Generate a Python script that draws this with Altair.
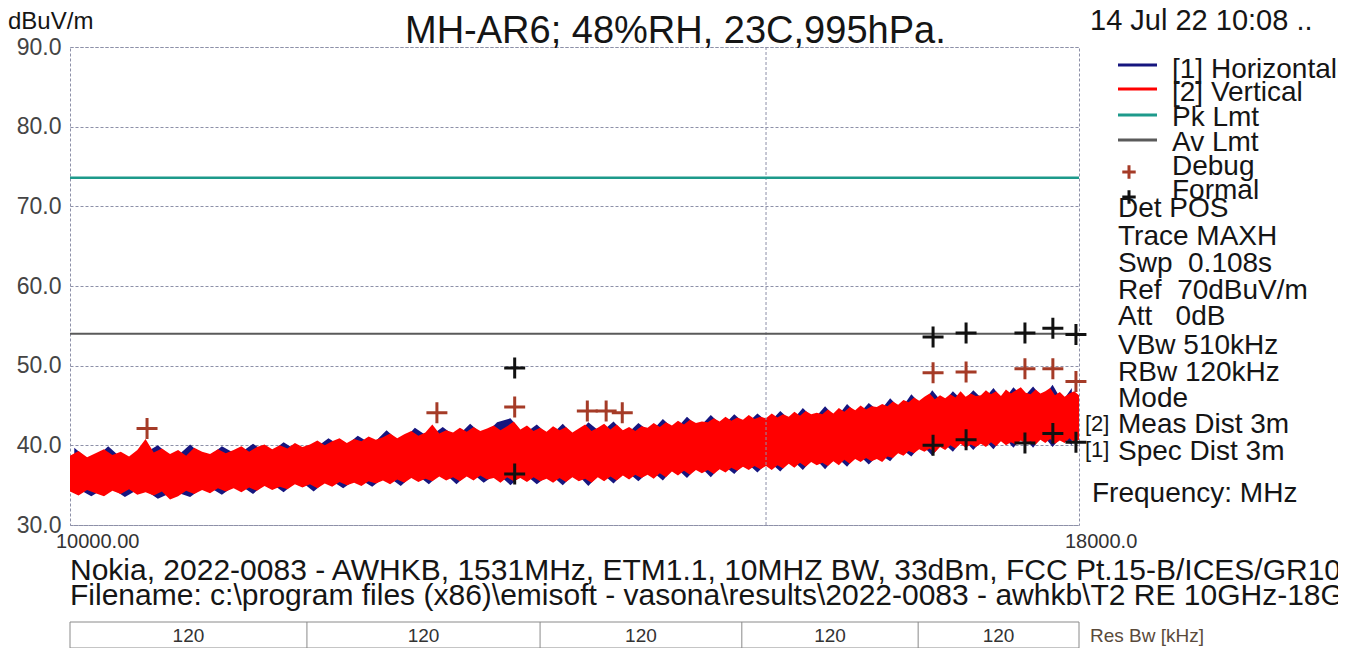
import altair as alt
import pandas as pd

FONT = "Liberation Sans"

# ---------------- data ----------------
RED_FREQ = [
    10000, 10050, 10100, 10150, 10200, 10250, 10300, 10350, 10400, 10450,
    10500, 10550, 10600, 10650, 10700, 10750, 10800, 10850, 10900, 10950,
    11000, 11050, 11100, 11150, 11200, 11250, 11300, 11350, 11400, 11450,
    11500, 11550, 11600, 11650, 11700, 11750, 11800, 11850, 11900, 11950,
    12000, 12050, 12100, 12150, 12200, 12250, 12300, 12350, 12400, 12450,
    12500, 12550, 12600, 12650, 12700, 12750, 12800, 12850, 12900, 12950,
    13000, 13050, 13100, 13150, 13200, 13250, 13300, 13350, 13400, 13450,
    13500, 13550, 13600, 13650, 13700, 13750, 13800, 13850, 13900, 13950,
    14000, 14050, 14100, 14150, 14200, 14250, 14300, 14350, 14400, 14450,
    14500, 14550, 14600, 14650, 14700, 14750, 14800, 14850, 14900, 14950,
    15000, 15050, 15100, 15150, 15200, 15250, 15300, 15350, 15400, 15450,
    15500, 15550, 15600, 15650, 15700, 15750, 15800, 15850, 15900, 15950,
    16000, 16050, 16100, 16150, 16200, 16250, 16300, 16350, 16400, 16450,
    16500, 16550, 16600, 16650, 16700, 16750, 16800, 16850, 16900, 16950,
    17000, 17050, 17100, 17150, 17200, 17250, 17300, 17350, 17400, 17450,
    17500, 17550, 17600, 17650, 17700, 17750, 17800, 17850, 17900, 17950,
    18000]
RED_HI = [
    38.7, 39.3, 38.5, 39.0, 39.5, 38.8, 39.2, 38.6, 39.4, 40.8,
    39.1, 39.6, 38.9, 39.4, 38.7, 39.7, 39.2, 38.9, 39.5, 39.0,
    39.4, 39.9, 39.2, 39.8, 40.1, 39.5, 40.0, 39.6, 40.3, 39.8,
    40.1, 40.6, 40.0, 40.5, 40.9, 40.3, 40.8, 40.5, 41.1, 40.7,
    41.0, 41.5, 40.9, 41.4, 41.8, 41.2, 41.6, 42.6, 41.5, 41.9,
    41.6, 42.2, 41.7, 42.3, 41.8, 42.1, 42.5, 41.9, 42.4, 43.0,
    42.0, 42.5, 41.8, 42.2, 41.7, 42.4, 41.9, 42.3, 41.6, 42.1,
    42.6, 41.8, 42.2, 42.7, 42.0, 42.6, 41.9, 42.3, 41.8, 42.4,
    42.2, 42.8, 42.3, 42.9, 42.5, 43.1, 42.6, 43.2, 42.8, 43.0,
    42.9, 43.4, 43.0, 43.6, 43.1, 43.5, 43.2, 43.8, 43.3, 43.6,
    43.4, 44.0, 43.5, 43.9, 43.6, 44.2, 43.7, 44.3, 43.9, 44.1,
    43.9, 44.5, 44.0, 44.7, 44.2, 44.8, 44.4, 45.0, 44.5, 44.9,
    44.8, 45.2, 44.9, 45.5, 45.1, 45.7, 45.4, 46.0, 45.6, 46.1,
    46.5, 45.8, 46.3, 45.9, 46.4, 46.0, 46.8, 46.1, 46.5, 46.2,
    46.3, 46.9, 46.4, 46.8, 46.2, 47.0, 46.5, 46.9, 47.3, 46.6,
    46.4, 47.0, 46.5, 46.8, 47.2, 46.3, 46.7, 46.1, 46.5, 46.8,
    46.3]
RED_LO = [
    34.2, 33.7, 34.4, 34.0, 33.6, 34.3, 33.9, 34.5, 33.8, 34.1,
    33.7, 34.2, 33.2, 33.6, 34.3, 33.9, 34.4, 34.0, 34.6, 34.2,
    34.6, 34.1, 34.7, 34.3, 34.9, 34.4, 34.8, 34.5, 35.1, 34.7,
    35.1, 34.6, 35.2, 34.8, 35.4, 35.0, 35.3, 34.9, 35.5, 35.2,
    35.6, 35.1, 35.7, 35.3, 35.9, 35.4, 35.8, 35.5, 36.1, 35.6,
    36.0, 35.5, 36.1, 35.6, 36.2, 35.7, 35.9, 35.3, 36.0, 35.5,
    35.9, 35.4, 36.0, 35.5, 35.8, 35.3, 35.9, 35.4, 36.0, 35.5,
    35.8, 35.3, 36.0, 35.5, 36.1, 35.6, 36.2, 35.7, 36.3, 35.9,
    36.3, 35.8, 36.5, 36.0, 36.7, 36.2, 36.8, 36.3, 36.9, 36.5,
    36.9, 36.4, 37.0, 36.6, 37.2, 36.8, 37.3, 36.9, 37.4, 37.0,
    37.4, 36.9, 37.5, 37.1, 37.7, 37.2, 37.8, 37.3, 37.9, 37.5,
    37.8, 37.4, 38.0, 37.5, 38.2, 37.7, 38.3, 37.9, 38.4, 38.0,
    38.3, 37.9, 38.6, 38.4, 39.0, 38.7, 39.3, 39.0, 39.5, 39.2,
    39.6, 39.1, 39.8, 39.4, 40.0, 39.6, 40.2, 39.7, 40.1, 39.8,
    40.2, 39.8, 40.4, 39.9, 40.5, 40.0, 40.4, 40.1, 40.6, 40.2,
    40.5, 40.1, 40.7, 40.3, 40.8, 40.2, 40.6, 40.3, 40.9, 40.4,
    40.7]

BLUE_FREQ = [
    10025, 10125, 10225, 10325, 10425, 10525, 10625, 10725, 10825, 10925,
    11025, 11125, 11225, 11325, 11425, 11525, 11625, 11725, 11825, 11925,
    12025, 12125, 12225, 12325, 12425, 12525, 12625, 12725, 12825, 12925,
    13025, 13125, 13225, 13325, 13425, 13525, 13625, 13725, 13825, 13925,
    14025, 14125, 14225, 14325, 14425, 14525, 14625, 14725, 14825, 14925,
    15025, 15125, 15225, 15325, 15425, 15525, 15625, 15725, 15825, 15925,
    16025, 16125, 16225, 16325, 16425, 16525, 16625, 16725, 16825, 16925,
    17025, 17125, 17225, 17325, 17425, 17525, 17625, 17725, 17825, 17925]
BLUE_HI = [
    39.7, 37.9, 39.9, 38.0, 38.8, 40.0, 38.3, 40.1, 38.3, 39.9,
    38.8, 40.2, 38.9, 40.4, 39.2, 39.5, 40.9, 39.7, 41.2, 40.1,
    41.9, 40.3, 42.2, 41.0, 42.3, 41.0, 42.7, 41.2, 42.9, 43.4,
    41.4, 42.6, 41.1, 42.7, 41.0, 42.9, 41.6, 43.0, 41.3, 42.8,
    41.6, 43.3, 41.9, 43.6, 42.2, 43.8, 42.4, 43.9, 42.6, 44.0,
    42.8, 44.3, 43.0, 44.7, 43.3, 44.9, 43.4, 45.2, 43.8, 45.3,
    44.2, 45.9, 44.5, 46.4, 45.0, 46.9, 45.3, 46.8, 45.5, 46.9,
    45.7, 47.2, 45.6, 47.3, 46.0, 47.4, 45.9, 47.6, 45.5, 47.2]
BLUE_LO = [
    34.8, 33.6, 34.9, 33.5, 34.7, 33.3, 34.2, 33.5, 35.0, 33.8,
    35.2, 33.9, 35.5, 34.1, 35.7, 34.2, 35.8, 34.6, 35.9, 34.8,
    36.2, 34.9, 36.5, 35.1, 36.7, 35.1, 36.7, 35.3, 36.5, 35.0,
    36.5, 35.1, 36.4, 35.0, 36.6, 34.9, 36.6, 35.2, 36.8, 35.5,
    36.9, 35.6, 37.3, 35.9, 37.5, 36.0, 37.6, 36.4, 37.9, 36.6,
    38.0, 36.7, 38.3, 36.9, 38.5, 37.0, 38.6, 37.3, 38.9, 37.6,
    38.9, 38.0, 39.6, 38.6, 40.1, 38.7, 40.4, 39.2, 40.8, 39.4,
    40.8, 39.5, 41.1, 39.7, 41.2, 39.7, 41.3, 39.8, 41.2, 40.0]

DEBUG_FREQ = [10459, 12383, 12957, 13517, 13666, 13795, 16533, 16854, 17442, 17728, 17968]
DEBUG_LEVEL = [42.1, 44.1, 44.8, 44.3, 44.3, 44.1, 49.1, 49.2, 49.6, 49.6, 48.0]

FORMAL_FREQ = [12957, 12957, 16533, 16533, 16854, 16854, 17442, 17442, 17728, 17728, 17968, 17968]
FORMAL_LEVEL = [49.7, 36.4, 53.6, 40.0, 54.1, 40.7, 54.1, 40.3, 54.7, 41.5, 53.9, 40.4]

PK_LIMIT = [73.6]
AV_LIMIT = [54.0]
GRID_FREQ = [15000]
Y_TICKS = [30, 40, 50, 60, 70, 80, 90]
X_TICKS = [10000, 18000]
X_TICK_LABELS = ["10000.00", "18000.0"]

RBW_EDGES = [10000, 11480, 13150, 14790, 16390, 18000]
RBW_VALUES = ["120", "120", "120", "120", "120"]

NB = "\u00a0"
TITLE = "MH-AR6; 48%RH, 23C,995hPa."
DATE = "14 Jul 22 10:08 .."
UNIT = "dBuV/m"
LEGEND = ["[1] Horizontal", "[2] Vertical", "Pk Lmt", "Av Lmt", "Debug", "Formal"]
PARAMS = ["Det POS", "Trace MAXH", "Swp" + NB * 2 + "0.108s", "Ref" + NB * 2 + "70dBuV/m",
          "Att" + NB * 3 + "0dB", "VBw 510kHz", "RBw 120kHz", "Mode"]
MEAS = ["[2]", "Meas Dist 3m"]
SPEC = ["[1]", "Spec Dist 3m"]
FREQ_LABEL = "Frequency: MHz"
FOOT1 = "Nokia, 2022-0083 - AWHKB, 1531MHz, ETM1.1, 10MHZ BW, 33dBm, FCC Pt.15-B/ICES/GR1089"
FOOT2 = r"Filename: c:\program files (x86)\emisoft - vasona\results\2022-0083 - awhkb\T2 RE 10GHz-18GHz"
RBW_LABEL = "Res Bw [kHz]"

# ---------------- styling ----------------
C_BLUE = "#16167f"
C_RED = "#ff0000"
C_PK = "#1d9a8b"
C_AV = "#5a5a5a"
C_DEBUG = "#a53b27"
C_FORMAL = "#111111"
C_GRID = "#8d90a8"
C_TEXT = "#151515"

W, H = 1009, 478
PAD_L, PAD_T = 62, 39
TOTAL_W, TOTAL_H = 1330, 640

xscale = alt.Scale(type="log", domain=[10000, 18000], nice=False)
yscale = alt.Scale(domain=[30, 90], nice=False)

X_AX = alt.Axis(values=X_TICKS, labels=False, domain=False, ticks=False, grid=False, title=None)
Y_AX = alt.Axis(values=Y_TICKS, format=".1f", labelFontSize=23, labelPadding=9,
                domain=False, ticks=False, grid=True, gridDash=[3, 2], gridColor=C_GRID,
                gridWidth=1, title=None, labelColor="#444444", labelFont=FONT)

red = pd.DataFrame({"f": RED_FREQ, "lo": RED_LO, "hi": RED_HI})
blue = pd.DataFrame({"f": BLUE_FREQ, "lo": BLUE_LO, "hi": BLUE_HI})
debug = pd.DataFrame({"f": DEBUG_FREQ, "v": DEBUG_LEVEL})
formal = pd.DataFrame({"f": FORMAL_FREQ, "v": FORMAL_LEVEL})


def X(field):
    return alt.X(field, type="quantitative", scale=xscale, axis=X_AX)


def Y(field):
    return alt.Y(field, type="quantitative", scale=yscale, axis=Y_AX)


blue_area = alt.Chart(blue).mark_area(color=C_BLUE, opacity=1).encode(
    x=X("f"), y=Y("lo"), y2="hi")
red_area = alt.Chart(red).mark_area(color=C_RED, opacity=1).encode(
    x=X("f"), y=Y("lo"), y2="hi")

vgrid = alt.Chart(pd.DataFrame({"f": GRID_FREQ})).mark_rule(
    color=C_GRID, strokeDash=[3, 2], strokeWidth=1).encode(x=X("f"))
pk = alt.Chart(pd.DataFrame({"v": PK_LIMIT})).mark_rule(
    color=C_PK, strokeWidth=2.5).encode(y=Y("v"))
av = alt.Chart(pd.DataFrame({"v": AV_LIMIT})).mark_rule(
    color=C_AV, strokeWidth=2).encode(y=Y("v"))

PLUS = "M-1,0L1,0M0,-1L0,1"
debug_pts = alt.Chart(debug).mark_point(shape=PLUS, size=440, strokeWidth=3,
                                        color=C_DEBUG, filled=False, opacity=1).encode(
    x=X("f"), y=Y("v"))
formal_pts = alt.Chart(formal).mark_point(shape=PLUS, size=440, strokeWidth=3,
                                          color=C_FORMAL, filled=False, opacity=1).encode(
    x=X("f"), y=Y("v"))

xlabels = alt.Chart(pd.DataFrame({"f": X_TICKS, "t": X_TICK_LABELS})).mark_text(
    align="left", baseline="top", dx=-14, fontSize=20, font=FONT, color="#333333").encode(
    x=X("f"), y=alt.value(H + 7), text="t:N")

ONE = pd.DataFrame({"a": [0]})


def px(x):
    return x - 8 - PAD_L


def py(y):
    return y - 8 - PAD_T


def txt(s, x, y, size=28, align="left", color=C_TEXT, baseline="middle"):
    return alt.Chart(ONE).mark_text(text=s, align=align, baseline=baseline, fontSize=size,
                                    font=FONT, color=color).encode(
        x=alt.value(px(x)), y=alt.value(py(y)))


def hline(x1, x2, y, color, width):
    return alt.Chart(ONE).mark_rule(color=color, strokeWidth=width).encode(
        x=alt.value(px(x1)), x2=alt.value(px(x2)), y=alt.value(py(y)))


layers = [blue_area, red_area, vgrid, av, pk, debug_pts, formal_pts, xlabels]

# header texts
layers.append(txt(UNIT, 8, 22, size=24))
layers.append(txt(TITLE, 405, 32, size=38))
layers.append(txt(DATE, 1090, 21, size=29))

# legend
leg_colors = [C_BLUE, C_RED, C_PK, C_AV]
leg_y = [65, 89, 115, 140]
for c, yy in zip(leg_colors, leg_y):
    layers.append(hline(1118, 1157, yy, c, 3))
leg_text_y = [70, 93, 118, 143, 167, 191]
for s, yy in zip(LEGEND, leg_text_y):
    layers.append(txt(s, 1172, yy, size=28))
layers.append(alt.Chart(ONE).mark_point(shape=PLUS, size=180, strokeWidth=3, color=C_DEBUG,
                                        filled=False, opacity=1).encode(
    x=alt.value(px(1129)), y=alt.value(py(172))))
layers.append(alt.Chart(ONE).mark_point(shape=PLUS, size=180, strokeWidth=3, color=C_FORMAL,
                                        filled=False, opacity=1).encode(
    x=alt.value(px(1129)), y=alt.value(py(197))))

param_y = [209, 237, 264, 291, 317, 346, 373, 399]
for s, yy in zip(PARAMS, param_y):
    layers.append(txt(s, 1118, yy, size=28))
layers.append(txt(MEAS[0], 1085, 424, size=22))
layers.append(txt(MEAS[1], 1118, 425, size=28))
layers.append(txt(SPEC[0], 1085, 450, size=22))
layers.append(txt(SPEC[1], 1118, 452, size=28))
layers.append(txt(FREQ_LABEL, 1092, 494, size=28))

# footer
layers.append(txt(FOOT1, 70, 571, size=30))
layers.append(txt(FOOT2, 70, 596, size=30))

# Res Bw table
rbw_edges = pd.DataFrame({"f": RBW_EDGES})
layers.append(alt.Chart(rbw_edges).mark_rule(color="#8a8a8a", strokeWidth=1).encode(
    x=X("f"), y=alt.value(py(622)), y2=alt.value(py(648))))
layers.append(hline(70, 1079, 622, "#8a8a8a", 1))
layers.append(hline(70, 1079, 648, "#8a8a8a", 1))
cent = [(a * b) ** 0.5 for a, b in zip(RBW_EDGES[:-1], RBW_EDGES[1:])]
rbw_lab = pd.DataFrame({"f": cent, "t": RBW_VALUES})
layers.append(alt.Chart(rbw_lab).mark_text(fontSize=19, font=FONT, color="#333333",
                                           baseline="middle").encode(
    x=X("f"), y=alt.value(py(636)), text="t:N"))
layers.append(txt(RBW_LABEL, 1090, 636, size=19, color="#5a4a3a"))

chart = alt.layer(*layers).properties(
    width=W, height=H,
    padding={"left": PAD_L, "top": PAD_T, "right": TOTAL_W - PAD_L - W,
             "bottom": TOTAL_H - PAD_T - H},
    autosize=alt.AutoSizeParams(type="none"),
    background="white",
).configure_view(stroke=C_GRID, strokeDash=[3, 2], strokeWidth=1)

chart.save("out.html", embed_options={"renderer": "svg", "actions": False})
